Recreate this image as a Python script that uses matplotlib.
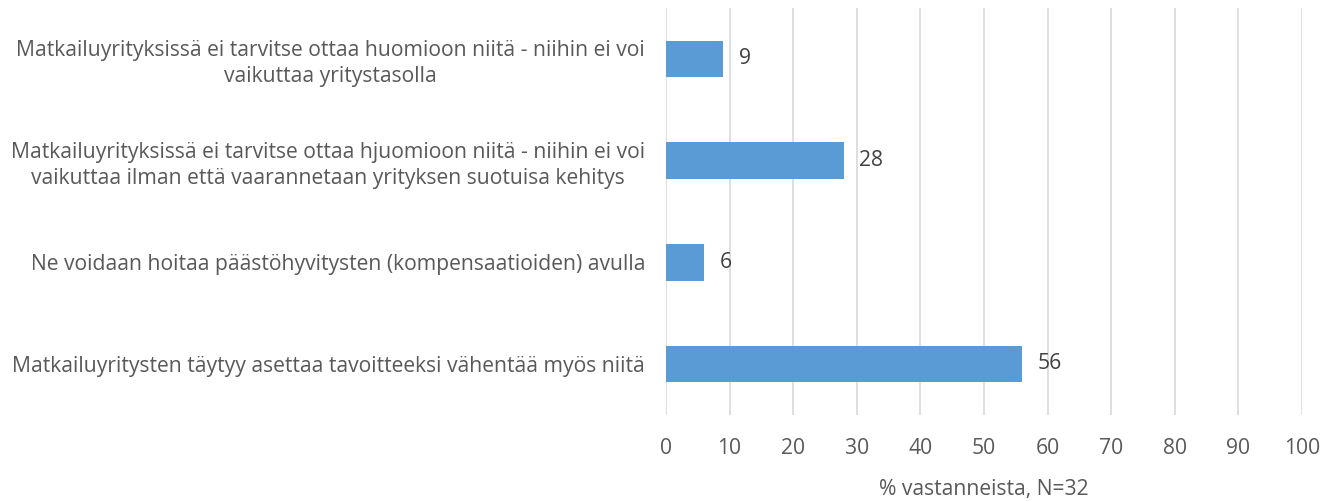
import matplotlib
matplotlib.use('Agg')
import matplotlib.pyplot as plt

plt.rcParams['font.family'] = ['Open Sans', 'DejaVu Sans']

# kategoriat ylhäältä alas
labels = [
    'Matkailuyrityksissä ei tarvitse ottaa huomioon niitä - niihin ei voi\nvaikuttaa yritystasolla',
    'Matkailuyrityksissä ei tarvitse ottaa hjuomioon niitä - niihin ei voi\nvaikuttaa ilman että vaarannetaan yrityksen suotuisa kehitys',
    'Ne voidaan hoitaa päästöhyvitysten (kompensaatioiden) avulla',
    'Matkailuyritysten täytyy asettaa tavoitteeksi vähentää myös niitä',
]
values = [9, 28, 6, 56]
xticks = list(range(0, 101, 10))

txt = '#595959'
fs = 15.2
fig = plt.figure(figsize=(13.35, 5.01), dpi=100)
ax = fig.add_axes([0.4989, 0.172, 0.4764, 0.812])

ypos = list(range(len(labels)))
ax.barh(ypos, values, height=0.36, color='#5B9BD5', zorder=3)
for y, v in zip(ypos, values):
    ax.text(v + 2.4, y, str(v), va='center', ha='left', fontsize=fs, color='#404040')

ax.set_xlim(0, 100)
ax.set_ylim(len(labels) - 0.5, -0.5)
ax.set_xticks(xticks)
ax.set_yticks(ypos)
ax.set_yticklabels(labels, fontsize=fs, color=txt)
for t in ax.get_yticklabels():
    t.set_multialignment('center')
    t.set_linespacing(1.3)
ax.tick_params(axis='x', labelsize=fs, labelcolor=txt, length=0, pad=17)
ax.tick_params(axis='y', length=0, pad=15)
ax.grid(axis='x', color='#D9D9D9', linewidth=1.2, zorder=0)
for s in ax.spines.values():
    s.set_visible(False)
ax.set_xlabel('% vastanneista, N=32', fontsize=fs, color=txt, labelpad=14)

fig.savefig('out.png', dpi=100)
